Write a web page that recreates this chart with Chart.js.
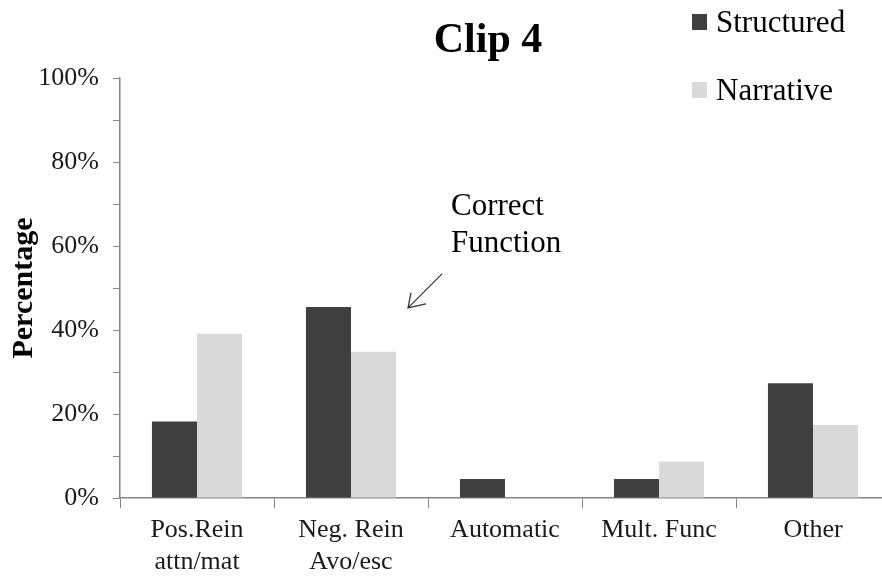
<!DOCTYPE html>
<html>
<head>
<meta charset="utf-8">
<script src="https://cdn.jsdelivr.net/npm/chart.js@4"></script>
<style>
  html, body { margin: 0; padding: 0; background: #fff; overflow: hidden; }
  #wrap { width: 900px; height: 577px; position: relative; }
</style>
</head>
<body>
<div id="wrap"><canvas id="c"></canvas></div>
<script>
// Function categories (multi-line axis labels)
const categories = [
  ['Pos.Rein', 'attn/mat'],
  ['Neg. Rein', 'Avo/esc'],
  ['Automatic'],
  ['Mult. Func'],
  ['Other']
];
// Percentage of responses per category
const structured = [18.2, 45.5, 4.5, 4.5, 27.3];
const narrative  = [39.1, 34.8, 0, 8.7, 17.4];
const seriesNames = ['Structured', 'Narrative'];
const yTicks = [0, 20, 40, 60, 80, 100];

const SERIF = '"Liberation Serif", "Times New Roman", serif';
const DARK = '#404040';
const LIGHT = '#d9d9d9';
const AXIS = '#868686';

// Title, legend and the "Correct Function" note
const overlay = {
  id: 'overlay',
  afterDraw(chart) {
    const ctx = chart.ctx;
    const x = chart.scales.x, y = chart.scales.y;
    ctx.save();
    // title
    ctx.fillStyle = '#000';
    ctx.font = 'bold 42px ' + SERIF;
    ctx.textAlign = 'center';
    ctx.textBaseline = 'alphabetic';
    ctx.fillText('Clip 4', 488, 52);

    // legend
    ctx.font = '31px ' + SERIF;
    ctx.textAlign = 'left';
    chart.data.datasets.forEach((ds, i) => {
      const base = i === 0 ? 32 : 100;
      ctx.fillStyle = ds.backgroundColor;
      ctx.fillRect(692, base - 18, 15, 16);
      ctx.fillStyle = '#000';
      ctx.fillText(ds.label, 716, base);
    });

    // annotation pointing at the Neg. Rein group
    const cx = x.getPixelForValue(1);
    const topY = y.getPixelForValue(structured[1]);
    ctx.font = '31px ' + SERIF;
    ctx.fillStyle = '#000';
    ctx.fillText('Correct', cx + 100, 215);
    ctx.fillText('Function', cx + 100, 252);
    const tipX = cx + 57, tipY = topY + 1;
    ctx.strokeStyle = '#333';
    ctx.lineWidth = 1.3;
    ctx.beginPath();
    ctx.moveTo(cx + 91, tipY - 34);
    ctx.lineTo(tipX, tipY);
    ctx.moveTo(tipX + 3, tipY - 15);
    ctx.lineTo(tipX, tipY);
    ctx.lineTo(tipX + 18, tipY - 4);
    ctx.stroke();
    ctx.restore();
  }
};

new Chart(document.getElementById('c'), {
  type: 'bar',
  data: {
    labels: categories,
    datasets: [
      { label: seriesNames[0], data: structured, backgroundColor: DARK },
      { label: seriesNames[1], data: narrative, backgroundColor: LIGHT }
    ]
  },
  options: {
    responsive: true,
    maintainAspectRatio: false,
    animation: false,
    layout: { padding: { top: 78, right: 10, left: 0, bottom: 0 } },
    datasets: { bar: { categoryPercentage: 0.585, barPercentage: 1.0 } },
    plugins: { legend: { display: false }, tooltip: { enabled: false } },
    scales: {
      x: {
        offset: true,
        grid: { offset: true, drawOnChartArea: false, drawTicks: true, tickLength: 10, color: AXIS },
        border: { color: AXIS, width: 1.5 },
        ticks: { color: '#1a1a1a', padding: 7, maxRotation: 0, autoSkip: false,
                 font: { family: SERIF, size: 26, lineHeight: 1.2 } },
        afterFit(s) { s.height = 79; }
      },
      y: {
        min: 0, max: 100,
        grid: { drawOnChartArea: false, drawTicks: true, tickLength: 7, color: AXIS },
        border: { color: AXIS, width: 1.5 },
        ticks: {
          stepSize: 10, color: '#1a1a1a', padding: 14,
          font: { family: SERIF, size: 26 },
          callback: v => yTicks.includes(v) ? v + '%' : ''
        },
        title: { display: true, text: 'Percentage', color: '#000',
                 font: { family: SERIF, size: 30, weight: 'bold' }, padding: { top: 6 } },
        afterFit(s) { s.width = 120; }
      }
    }
  },
  plugins: [overlay]
});
</script>
</body>
</html>
